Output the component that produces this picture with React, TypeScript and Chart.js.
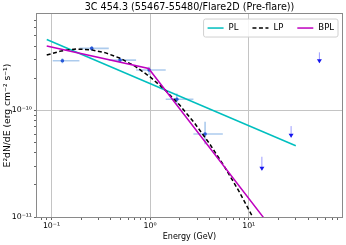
import React, { useEffect, useRef } from 'react';
import { Chart, registerables } from 'chart.js';

Chart.register(...registerables);

const FONT = "'DejaVu Sans', 'Liberation Sans', sans-serif";

const TITLE = '3C 454.3 (55467-55480/Flare2D (Pre-flare))';
const X_LABEL = 'Energy (GeV)';
const Y_LABEL = 'E²dN/dE (erg cm⁻² s⁻¹)';

// axis ranges
const X_MIN = 0.0713;
const X_MAX = 88.3;
const Y_MIN = 1e-11;
const Y_MAX = 8e-10;

// ticks
const X_MAJOR = [0.1, 1, 10];
const X_TICK_LABELS = ['10⁻¹', '10⁰', '10¹'];
const X_MINOR = [0.08, 0.09, 0.2, 0.3, 0.4, 0.5, 0.6, 0.7, 0.8, 0.9, 2, 3, 4, 5, 6, 7, 8, 9, 20, 30, 40, 50, 60, 70, 80];
const Y_MAJOR = [1e-11, 1e-10];
const Y_TICK_LABELS = ['10⁻¹¹', '10⁻¹⁰'];
const Y_MINOR = [2e-11, 3e-11, 4e-11, 5e-11, 6e-11, 7e-11, 8e-11, 9e-11, 2e-10, 3e-10, 4e-10, 5e-10, 6e-10, 7e-10];

// flux points (energy, bin edges, flux, flux errors)
const dataE = [0.129, 0.256, 0.496, 0.977, 1.866, 3.61];
const dataELo = [0.103, 0.192, 0.381, 0.721, 1.44, 2.75];
const dataEHi = [0.192, 0.381, 0.721, 1.44, 2.75, 5.46];
const dataF = [2.92e-10, 3.81e-10, 2.96e-10, 2.39e-10, 1.27e-10, 6.0e-11];
const dataFLo = [2.77e-10, 3.62e-10, 2.83e-10, 2.14e-10, 1.12e-10, 4.8e-11];
const dataFHi = [3.08e-10, 4.0e-10, 3.1e-10, 2.56e-10, 1.44e-10, 7.8e-11];

// upper limits
const ulE = [13.6, 26.9, 52.1];
const ulF = [3.67e-11, 7.12e-11, 3.5e-10];
const ulTip = [2.75e-11, 5.58e-11, 2.79e-10];

// models
const plE = [0.0895, 30];
const plF = [4.62e-10, 4.66e-11];

const lpE = [0.0895, 0.126, 0.178, 0.251, 0.355, 0.501, 0.708, 1.0, 1.413, 1.995, 2.818, 3.981, 5.623, 7.943, 11.22, 15.85];
const lpF = [3.3e-10, 3.61e-10, 3.76e-10, 3.7e-10, 3.46e-10, 3.07e-10, 2.58e-10, 2.06e-10, 1.56e-10, 1.12e-10, 7.62e-11, 4.91e-11, 3.01e-11, 1.75e-11, 9.62e-12, 5.0e-12];

const bplE = [0.0895, 0.966, 30];
const bplF = [4.01e-10, 2.47e-10, 4.0e-12];

const LEGEND_LABELS = ['PL', 'LP', 'BPL'];

const pts = (xs: number[], ys: number[]) => xs.map((x, i) => ({ x, y: ys[i] }));

const isMajor = (v: number, majors: number[]) => majors.some((m) => Math.abs(v / m - 1) < 1e-6);

const errorBarPlugin = {
  id: 'errorBars',
  beforeDatasetsDraw(chart: any) {
    const { ctx } = chart;
    const xs = chart.scales.x;
    const ys = chart.scales.y;
    ctx.save();
    ctx.strokeStyle = 'rgba(70, 140, 215, 0.45)';
    ctx.lineWidth = 1.6;
    for (let i = 0; i < dataE.length; i++) {
      const px = xs.getPixelForValue(dataE[i]);
      const py = ys.getPixelForValue(dataF[i]);
      ctx.beginPath();
      ctx.moveTo(xs.getPixelForValue(dataELo[i]), py);
      ctx.lineTo(xs.getPixelForValue(dataEHi[i]), py);
      ctx.moveTo(px, ys.getPixelForValue(dataFLo[i]));
      ctx.lineTo(px, ys.getPixelForValue(dataFHi[i]));
      ctx.stroke();
    }
    // upper limits
    for (let i = 0; i < ulE.length; i++) {
      const px = xs.getPixelForValue(ulE[i]);
      const y0 = ys.getPixelForValue(ulF[i]);
      const y1 = ys.getPixelForValue(ulTip[i]);
      ctx.strokeStyle = 'rgba(60, 60, 255, 0.5)';
      ctx.lineWidth = 1;
      ctx.beginPath();
      ctx.moveTo(px, y0);
      ctx.lineTo(px, y1);
      ctx.stroke();
      ctx.fillStyle = '#1515ee';
      ctx.beginPath();
      ctx.moveTo(px - 2.5, y1 - 3.5);
      ctx.lineTo(px + 2.5, y1 - 3.5);
      ctx.lineTo(px, y1 + 0.5);
      ctx.closePath();
      ctx.fill();
    }
    ctx.restore();
  },
};

const framePlugin = {
  id: 'frameAndLegend',
  afterDatasetsDraw(chart: any) {
    const { ctx, chartArea } = chart;
    const { left, right, top, bottom } = chartArea;
    ctx.save();
    // frame
    ctx.strokeStyle = '#8a8a8a';
    ctx.lineWidth = 1;
    ctx.strokeRect(Math.round(left) - 0.5, Math.round(top) - 0.5, Math.round(right) - Math.round(left) + 1, Math.round(bottom) - Math.round(top) + 1);

    // legend
    const items = chart.data.datasets.filter((d: any) => LEGEND_LABELS.includes(d.label));
    ctx.font = `8.5px ${FONT}`;
    const handle = 16;
    const pad = 5;
    const gap = 14;
    const bp = 4;
    const widths = items.map((d: any) => ctx.measureText(d.label).width);
    let total = bp * 2 + gap * (items.length - 1);
    widths.forEach((w: number) => (total += handle + pad + w));
    const r = right - 4;
    const t = top + 5;
    const h = 18;
    const l = r - total;
    ctx.beginPath();
    const rad = 2;
    ctx.moveTo(l + rad, t);
    ctx.lineTo(r - rad, t);
    ctx.quadraticCurveTo(r, t, r, t + rad);
    ctx.lineTo(r, t + h - rad);
    ctx.quadraticCurveTo(r, t + h, r - rad, t + h);
    ctx.lineTo(l + rad, t + h);
    ctx.quadraticCurveTo(l, t + h, l, t + h - rad);
    ctx.lineTo(l, t + rad);
    ctx.quadraticCurveTo(l, t, l + rad, t);
    ctx.closePath();
    ctx.fillStyle = 'rgba(255,255,255,0.85)';
    ctx.fill();
    ctx.strokeStyle = '#d0d0d0';
    ctx.lineWidth = 1;
    ctx.stroke();
    let x = l + bp;
    const cy = t + h / 2;
    items.forEach((d: any, i: number) => {
      ctx.strokeStyle = d.borderColor;
      ctx.lineWidth = d.borderWidth;
      ctx.setLineDash(d.borderDash || []);
      ctx.beginPath();
      ctx.moveTo(x, cy);
      ctx.lineTo(x + handle, cy);
      ctx.stroke();
      ctx.setLineDash([]);
      ctx.fillStyle = '#000';
      ctx.textBaseline = 'middle';
      ctx.textAlign = 'left';
      ctx.fillText(d.label, x + handle + pad, cy);
      x += handle + pad + widths[i] + gap;
    });
    ctx.restore();
  },
};

export default function App() {
  const ref = useRef<HTMLCanvasElement | null>(null);

  useEffect(() => {
    document.body.style.margin = '0';
    if (!ref.current) return;
    const tickFont = { family: FONT, size: 7.8 };
    const chart = new Chart(ref.current, {
      type: 'scatter',
      data: {
        datasets: [
          {
            label: 'PL',
            data: pts(plE, plF),
            showLine: true,
            borderColor: '#00bfbf',
            backgroundColor: '#00bfbf',
            borderWidth: 1.5,
            pointRadius: 0,
            order: 2,
          },
          {
            label: 'LP',
            data: pts(lpE, lpF),
            showLine: true,
            borderColor: '#000000',
            backgroundColor: '#000000',
            borderWidth: 1.5,
            borderDash: [4, 2.5],
            pointRadius: 0,
            order: 1,
          },
          {
            label: 'BPL',
            data: pts(bplE, bplF),
            showLine: true,
            borderColor: '#bf00bf',
            backgroundColor: '#bf00bf',
            borderWidth: 1.5,
            pointRadius: 0,
            order: 0,
          },
          {
            label: 'data',
            data: pts(dataE, dataF),
            showLine: false,
            pointRadius: 1.8,
            pointBackgroundColor: '#2858d8',
            pointBorderWidth: 0,
            order: 10,
          },
        ],
      },
      options: {
        animation: false,
        responsive: false,
        devicePixelRatio: 1,
        layout: { padding: { left: 0, right: 4, top: 0, bottom: 0 } },
        plugins: {
          legend: { display: false },
          tooltip: { enabled: false },
          title: {
            display: true,
            text: TITLE,
            fullSize: false,
            color: '#000',
            font: { family: FONT, size: 9.6, weight: 'normal', lineHeight: 1.15 },
            padding: { top: 2, bottom: 1 },
          },
        },
        scales: {
          x: {
            type: 'logarithmic',
            min: X_MIN,
            max: X_MAX,
            afterFit: (s: any) => {
              s.height = 28;
            },
            afterBuildTicks: (s: any) => {
              s.ticks = [...X_MAJOR, ...X_MINOR]
                .sort((a, b) => a - b)
                .map((v) => ({ value: v, major: isMajor(v, X_MAJOR) }));
            },
            ticks: {
              autoSkip: false,
              maxRotation: 0,
              font: tickFont,
              color: '#000',
              padding: 1,
              callback: (v: any) => {
                const i = X_MAJOR.findIndex((m) => Math.abs(Number(v) / m - 1) < 1e-6);
                return i >= 0 ? X_TICK_LABELS[i] : '';
              },
            },
            grid: {
              color: (c: any) => (c.tick && c.tick.major ? '#c4c4c4' : 'rgba(0,0,0,0)'),
              tickColor: '#666',
              tickLength: 3,
              lineWidth: 1,
            },
            border: { display: false },
            title: {
              display: true,
              text: X_LABEL,
              color: '#000',
              font: { family: FONT, size: 8 },
              padding: { top: 0, bottom: 3.5 },
            },
          },
          y: {
            type: 'logarithmic',
            min: Y_MIN,
            max: Y_MAX,
            afterFit: (s: any) => {
              s.width = 37;
            },
            afterBuildTicks: (s: any) => {
              s.ticks = [...Y_MAJOR, ...Y_MINOR]
                .sort((a, b) => a - b)
                .map((v) => ({ value: v, major: isMajor(v, Y_MAJOR) }));
            },
            ticks: {
              autoSkip: false,
              font: tickFont,
              color: '#000',
              padding: 2,
              callback: (v: any) => {
                const i = Y_MAJOR.findIndex((m) => Math.abs(Number(v) / m - 1) < 1e-6);
                return i >= 0 ? Y_TICK_LABELS[i] : '';
              },
            },
            grid: {
              color: (c: any) => (c.tick && c.tick.major ? '#c4c4c4' : 'rgba(0,0,0,0)'),
              tickColor: '#666',
              tickLength: 3,
              lineWidth: 1,
            },
            border: { display: false },
            title: {
              display: true,
              text: Y_LABEL,
              color: '#000',
              font: { family: FONT, size: 9.2 },
              padding: { top: 2, bottom: 0 },
            },
          },
        },
      } as any,
      plugins: [errorBarPlugin, framePlugin],
    });
    return () => chart.destroy();
  }, []);

  return (
    <div style={{ width: 346, height: 245 }}>
      <canvas ref={ref} width={346} height={245} />
    </div>
  );
}
